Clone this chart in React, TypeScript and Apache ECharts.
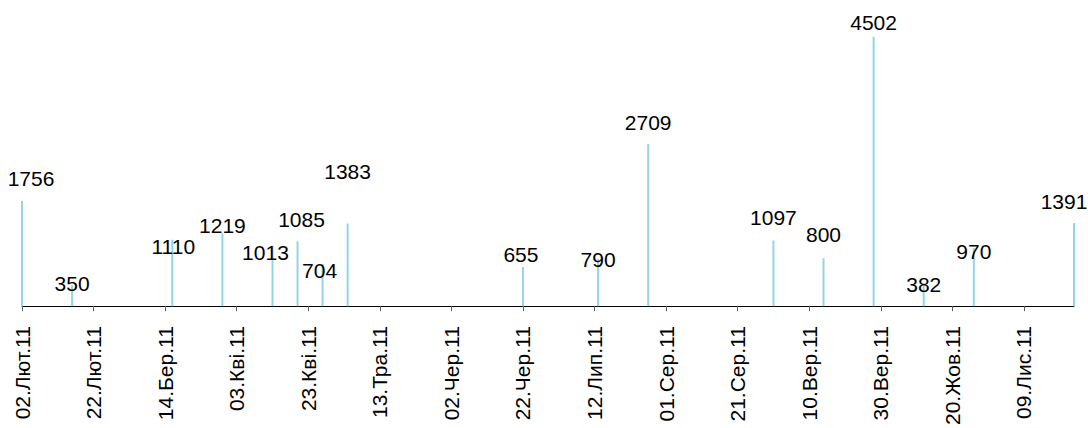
import React, { useEffect, useRef } from "react";
import * as echarts from "echarts";

// Data
const dates = [
  "2011-02-02", "2011-02-16", "2011-03-16", "2011-03-30", "2011-04-13", "2011-04-20",
  "2011-04-27", "2011-05-04", "2011-06-22", "2011-07-13", "2011-07-27", "2011-08-31",
  "2011-09-14", "2011-09-28", "2011-10-12", "2011-10-26", "2011-11-23",
];
const values = [1756, 350, 1110, 1219, 1013, 1085, 704, 1383, 655, 790, 2709, 1097, 800, 4502, 382, 970, 1391];

const tickDates = [
  "2011-02-02", "2011-02-22", "2011-03-14", "2011-04-03", "2011-04-23", "2011-05-13",
  "2011-06-02", "2011-06-22", "2011-07-12", "2011-08-01", "2011-08-21", "2011-09-10",
  "2011-09-30", "2011-10-20", "2011-11-09",
];
const tickLabels = [
  "02.Лют.11", "22.Лют.11", "14.Бер.11", "03.Кві.11", "23.Кві.11", "13.Тра.11",
  "02.Чер.11", "22.Чер.11", "12.Лип.11", "01.Сер.11", "21.Сер.11", "10.Вер.11",
  "30.Вер.11", "20.Жов.11", "09.Лис.11",
];
const startDate = "2011-02-02";
const endDate = "2011-11-23";

// Layout: manual nudges of the data labels (as placed in the reference)
const labelNudges: [number, number][] = [
  [9, -7], [0, 14], [1, 22], [0, 8], [-7, 22], [4, -6], [-3, 22], [0, -36],
  [-2, 3], [0, 16], [0, -6], [0, -8], [0, -8], [0, 1], [0, 17], [0, 19], [-10, -6],
];

const DAY = 86400000;
function toUTC(s: string) {
  const [y, m, d] = s.split("-").map(Number);
  return Date.UTC(y, m - 1, d);
}
function dayIndex(s: string) {
  return Math.round((toUTC(s) - toUTC(startDate)) / DAY);
}

const FONT = "'Liberation Sans', Arial, sans-serif";

export default function App() {
  const ref = useRef<HTMLDivElement>(null);
  useEffect(() => {
    if (!ref.current) return;
    const chart = echarts.init(ref.current, null, { renderer: "svg" });
    const tickVals = tickDates.map(dayIndex);
    const labelMap: Record<number, string> = {};
    tickVals.forEach((v, i) => (labelMap[v] = tickLabels[i]));
    chart.setOption({
      animation: false,
      backgroundColor: "#ffffff",
      grid: { left: 22, right: 14, top: 7, bottom: 119, containLabel: false },
      xAxis: {
        type: "value",
        min: 0,
        max: dayIndex(endDate),
        interval: 20,
        splitLine: { show: false },
        axisLine: { show: true, onZero: false, lineStyle: { color: "#000000", width: 1 } },
        axisTick: { show: true, length: 5, customValues: tickVals, lineStyle: { color: "#606060" } },
        axisLabel: {
          customValues: tickVals,
          rotate: 90,
          margin: 20,
          fontSize: 21,
          fontFamily: FONT,
          color: "#000000",
          formatter: (v: number) => labelMap[v] ?? "",
        },
      },
      yAxis: {
        type: "value",
        min: 0,
        max: 5000,
        show: false,
        splitLine: { show: false },
      },
      series: [
        {
          type: "bar",
          barWidth: 2,
          itemStyle: { color: "#92D5E6" },
          label: {
            show: true,
            position: "top",
            distance: 5,
            fontSize: 21,
            fontFamily: FONT,
            color: "#000000",
            formatter: (p: any) => String(p.value[1]),
          },
          data: dates.map((d, i) => ({
            value: [dayIndex(d), values[i]],
            label: { offset: labelNudges[i] },
          })),
        },
      ],
    });
    return () => chart.dispose();
  }, []);
  return <div ref={ref} style={{ width: 1088, height: 428, position: "absolute", left: 0, top: 0 }} />;
}
